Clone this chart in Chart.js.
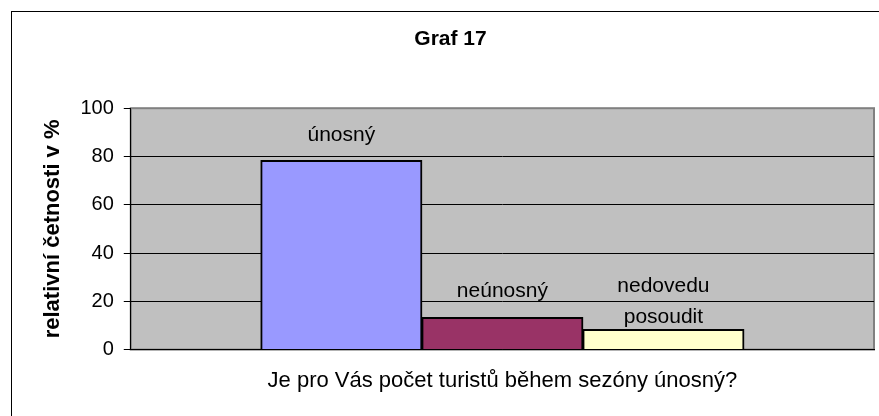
<!DOCTYPE html>
<html>
<head>
<meta charset="utf-8">
<script src="https://cdn.jsdelivr.net/npm/chart.js@4/dist/chart.umd.min.js"></script>
<style>
  html, body { margin: 0; padding: 0; background: #fff; }
  #wrap { width: 879px; height: 416px; position: relative; }
</style>
</head>
<body>
<div id="wrap"><canvas id="c"></canvas></div>
<script>
// ---- data ----
const chartTitle = 'Graf 17';
const categories = ['Je pro Vás počet turistů během sezóny únosný?'];
const seriesNames = ['únosný', 'neúnosný', 'nedovedu posoudit'];
const seriesLabelLines = [['únosný'], ['neúnosný'], ['nedovedu', 'posoudit']];
const seriesValues = [78.3, 13.3, 8.3];
const yTicks = [0, 20, 40, 60, 80, 100];
const yAxisTitle = 'relativní četnosti v %';

const seriesColors = ['#9999FF', '#993366', '#FFFFCC'];
const FONT = '"Liberation Sans", Arial, sans-serif';

const frame = {
  id: 'frame',
  beforeDraw(chart) {
    const {ctx, chartArea: a} = chart;
    ctx.save();
    ctx.strokeStyle = '#000';
    ctx.lineWidth = 1;
    ctx.strokeRect(11.5, 11.5, 2000, 2000);
    ctx.fillStyle = '#C0C0C0';
    ctx.fillRect(a.left, a.top, a.right - a.left, a.bottom - a.top);
    ctx.strokeStyle = '#808080';
    ctx.lineWidth = 2;
    ctx.strokeRect(a.left, a.top, a.right - a.left, a.bottom - a.top);
    ctx.restore();
  },
  afterDraw(chart) {
    const {ctx} = chart;
    const t = chart.titleBlock;
    ctx.save();
    ctx.font = 'bold 21px ' + FONT;
    ctx.fillStyle = '#000';
    ctx.textAlign = 'center';
    ctx.textBaseline = 'middle';
    ctx.fillText(chartTitle, (chart.width + 22) / 2, t.top + 27 + 12.6);
    ctx.restore();
  }
};

const barLabels = {
  id: 'barLabels',
  afterDatasetsDraw(chart) {
    const {ctx} = chart;
    ctx.save();
    ctx.font = '21px ' + FONT;
    ctx.fillStyle = '#000';
    ctx.textAlign = 'center';
    ctx.textBaseline = 'alphabetic';
    chart.data.datasets.forEach((ds, i) => {
      const el = chart.getDatasetMeta(i).data[0];
      if (!el) return;
      const lines = seriesLabelLines[i];
      const lh = 31;
      const gap = lines.length > 1 ? 7 : 20;
      lines.forEach((t, k) => {
        const y = el.y - gap - (lines.length - 1 - k) * lh;
        ctx.fillText(t, el.x, y);
      });
    });
    ctx.restore();
  }
};

const canvas = document.getElementById('c');
new Chart(canvas, {
  type: 'bar',
  data: {
    labels: categories,
    datasets: seriesNames.map((n, i) => ({
      label: n,
      data: [seriesValues[i]],
      backgroundColor: seriesColors[i],
      borderColor: '#000',
      borderWidth: 2,
      inflateAmount: 0.5,
      categoryPercentage: 0.65,
      barPercentage: 1.0
    }))
  },
  options: {
    responsive: true,
    maintainAspectRatio: false,
    animation: false,
    layout: { padding: { top: 0, right: 5, bottom: 22, left: 0 } },
    plugins: {
      legend: { display: false },
      tooltip: { enabled: false },
      title: {
        display: true,
        text: chartTitle,
        color: 'rgba(0,0,0,0)',
        font: { family: FONT, size: 21, weight: 'bold' },
        padding: { top: 27, bottom: 56 }
      }
    },
    scales: {
      x: {
        ticks: { display: false },
        grid: { display: false },
        border: { display: true, color: '#000', width: 1 },
        title: {
          display: true,
          text: categories[0],
          color: '#000',
          font: { family: FONT, size: 22 },
          padding: { top: 10, bottom: 0 }
        }
      },
      y: {
        min: 0,
        max: 100,
        afterBuildTicks(axis) { axis.ticks = yTicks.map(v => ({ value: v })); },
        ticks: {
          color: '#000',
          font: { family: FONT, size: 20 },
          padding: 10
        },
        grid: {
          color: (c) => (c.tick && c.tick.value === 100 ? '#808080' : '#000'),
          tickColor: '#000',
          tickLength: 7,
          lineWidth: 1
        },
        border: { display: true, color: '#000', width: 1 },
        title: {
          display: true,
          text: yAxisTitle,
          color: '#000',
          font: { family: FONT, size: 22, weight: 'bold' },
          padding: { top: 40, bottom: 4 }
        }
      }
    }
  },
  plugins: [frame, barLabels]
});
</script>
</body>
</html>
